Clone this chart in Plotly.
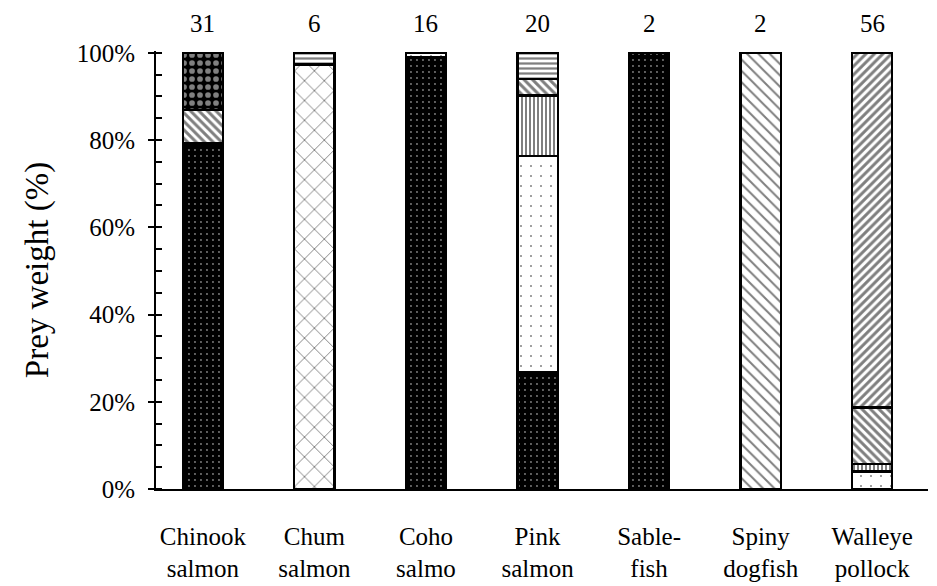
import plotly.graph_objects as go

# Predator species (x categories) and sample sizes shown above bars
species = ["Chinook<br>salmon", "Chum<br>salmon", "Coho<br>salmo", "Pink<br>salmon",
           "Sable-<br>fish", "Spiny<br>dogfish", "Walleye<br>pollock"]
sample_n = [31, 6, 16, 20, 2, 2, 56]

# Prey weight (%) by prey category, stacked bottom -> top
prey_dark_dots  = [78.8, 0,    99.0, 26.9, 100, 0,   0]
prey_light_dots = [0.4,  0,    1.0,  49.5, 0,   0,   4.0]
prey_vertical   = [0,    0,    0,    13.8, 0,   0,   1.8]
prey_backslash  = [7.7,  0,    0,    3.8,  0,   0,   12.9]
prey_checker    = [13.1, 0,    0,    0,    0,   0,   0]
prey_cross      = [0,    97.3, 0,    0,    0,   0,   0]
prey_wavy       = [0,    2.7,  0,    6.0,  0,   0,   0]
prey_zigzag     = [0,    0,    0,    0,    0,   100, 0]
prey_slash      = [0,    0,    0,    0,    0,   0,   81.3]

series = [
    (prey_dark_dots,  dict(shape=".",  bgcolor="black", fgcolor="white", size=6,  solidity=0.08)),
    (prey_light_dots, dict(shape=".",  bgcolor="white", fgcolor="black", size=10, solidity=0.03)),
    (prey_vertical,   dict(shape="|",  bgcolor="white", fgcolor="black", size=4,  solidity=0.5)),
    (prey_backslash,  dict(shape="\\", bgcolor="white", fgcolor="black", size=6,  solidity=0.5)),
    (prey_checker,    dict(shape=".",  bgcolor="black", fgcolor="white", size=8,  solidity=0.4)),
    (prey_cross,      dict(shape="x",  bgcolor="white", fgcolor="black", size=14, solidity=0.13)),
    (prey_wavy,       dict(shape="-",  bgcolor="white", fgcolor="black", size=5,  solidity=0.45)),
    (prey_zigzag,     dict(shape="\\", bgcolor="white", fgcolor="black", size=8,  solidity=0.25)),
    (prey_slash,      dict(shape="/",  bgcolor="white", fgcolor="black", size=6,  solidity=0.5)),
]

SERIF = "Liberation Serif, Times New Roman, serif"

fig = go.Figure()
for vals, pat in series:
    fig.add_trace(go.Bar(
        x=species, y=[v / 100 if v else None for v in vals],
        marker=dict(color=pat["bgcolor"], line=dict(color="black", width=2.2), pattern=pat),
        showlegend=False, hoverinfo="skip",
    ))

for sp, n in zip(species, sample_n):
    fig.add_annotation(x=sp, y=1.0, xref="x", yref="y", text=str(n), showarrow=False,
                       yanchor="bottom", yshift=14,
                       font=dict(family=SERIF, size=25, color="black"))

fig.update_layout(
    barmode="stack", bargap=0.64,
    width=937, height=586,
    margin=dict(l=148, r=17, t=43, b=89),
    paper_bgcolor="white", plot_bgcolor="white",
    font=dict(family=SERIF, size=25, color="black"),
)
fig.update_xaxes(
    range=[-0.42, 6.5], showline=True, linecolor="black", linewidth=1.5,
    ticks="", showgrid=False, zeroline=False, ticklabelstandoff=24,
    tickfont=dict(family=SERIF, size=25, color="black"),
)
fig.update_yaxes(
    range=[0, 1.004], tickvals=[0, 0.2, 0.4, 0.6, 0.8, 1.0],
    ticktext=["0%", "20%", "40%", "60%", "80%", "100%"],
    showline=True, linecolor="black", linewidth=2,
    ticks="outside", ticklen=6, tickwidth=2, tickcolor="black",
    minor=dict(dtick=0.05, tick0=0, ticks="inside", ticklen=6, tickwidth=2, tickcolor="black"),
    showgrid=False, zeroline=False, ticklabelstandoff=8,
    tickfont=dict(family=SERIF, size=25, color="black"),
    title=dict(text="Prey weight (%)", standoff=18,
               font=dict(family=SERIF, size=33, color="black")),
)

fig.write_html("out.html")
